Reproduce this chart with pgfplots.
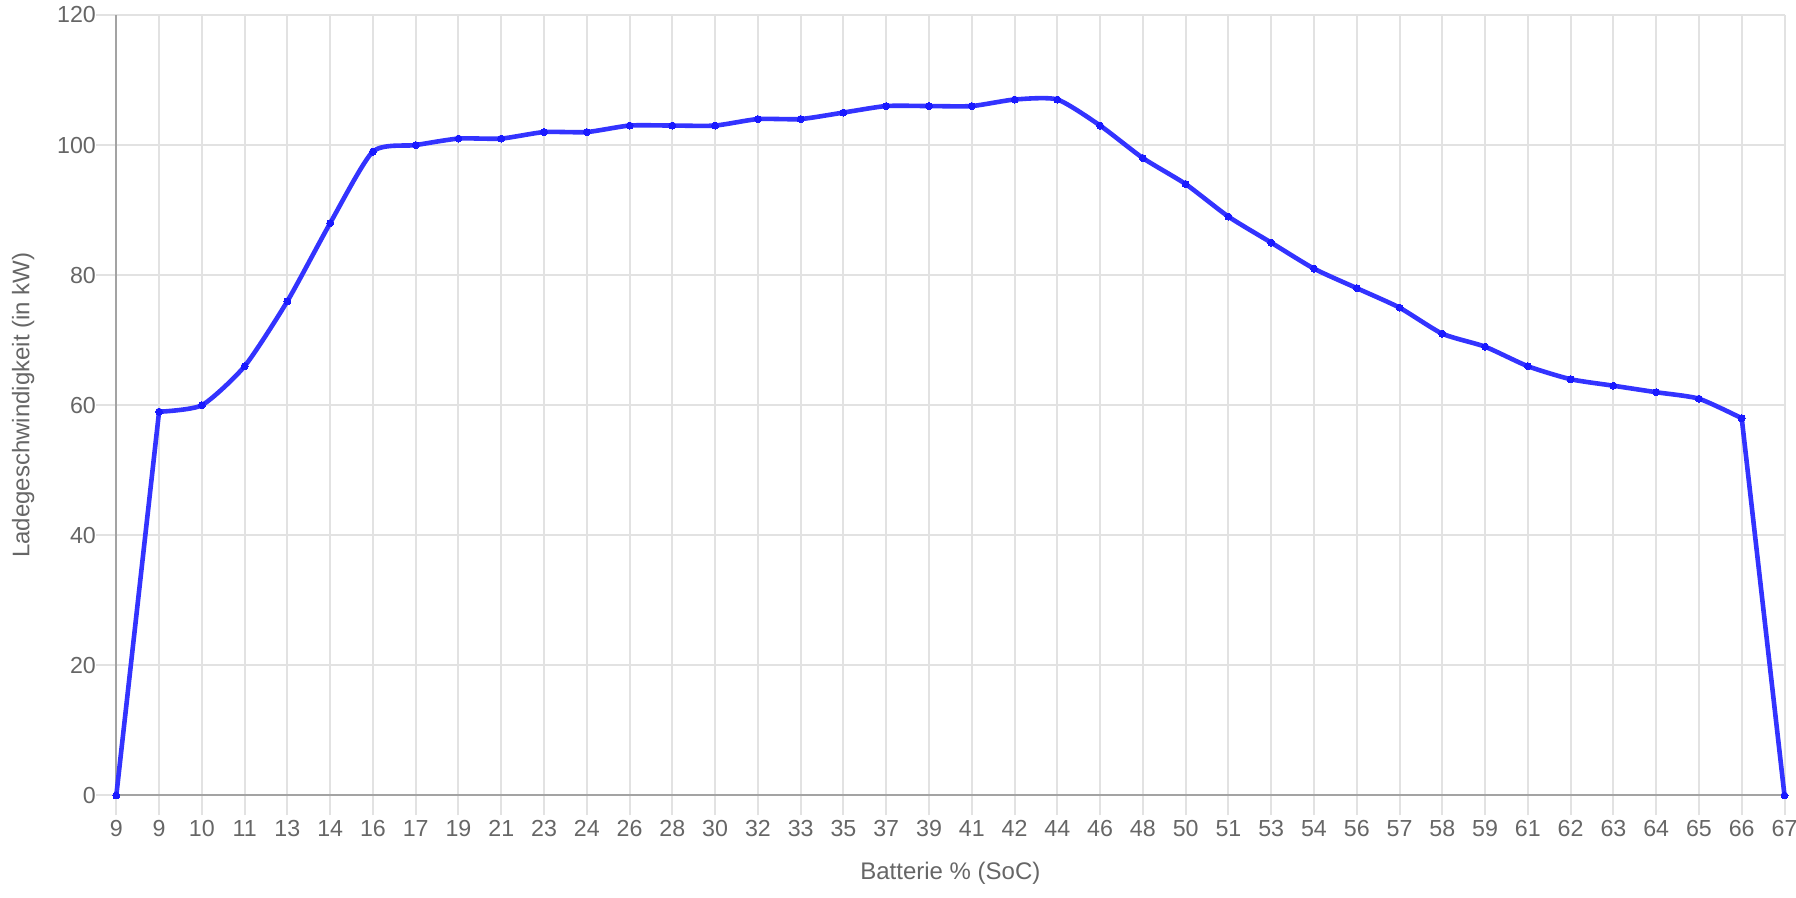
\documentclass[border=0pt]{standalone}
\usepackage{pgfplots}
\pgfplotsset{compat=1.18}
\usepackage{fontspec}
\setmainfont{Liberation Sans}
\definecolor{gridc}{HTML}{E2E2E2}
\definecolor{axisc}{HTML}{A3A3A3}
\definecolor{textc}{HTML}{666666}
\definecolor{linec}{HTML}{3333FF}
\definecolor{markc}{HTML}{1A1AFF}
\begin{document}
\begin{tikzpicture}
\path[use as bounding box] (-58.15pt,-51.25pt) rectangle (839.85pt,397.75pt);
\begin{axis}[
  at={(0,0)}, anchor=south west,
  scale only axis, width=834.1pt, height=390.25pt,
  xmin=0, xmax=39, ymin=0, ymax=120,
  xtick={0,...,39},
  xticklabels={9,9,10,11,13,14,16,17,19,21,23,24,26,28,30,32,33,35,37,39,41,42,44,46,48,50,51,53,54,56,57,58,59,61,62,63,64,65,66,67},
  ytick={0,20,...,120},
  grid=major,
  major grid style={gridc, line width=1pt},
  axis x line*=bottom, axis y line*=left,
  axis line style={axisc, line width=1pt, -},
  tick align=outside,
  major tick length=10pt,
  tick style={gridc, line width=1pt},
  every tick label/.append style={textc, font=\fontsize{11.6}{13}\selectfont},
  /pgf/number format/assume math mode=true,
  xticklabel style={yshift=1pt},
  yticklabel style={xshift=3.3pt},
  xlabel={Batterie \% (SoC)},
  ylabel={Ladegeschwindigkeit (in kW)},
  label style={textc, font=\fontsize{12}{14}\selectfont},
  xlabel style={at={(axis description cs:0.5,0)}, anchor=base, yshift=-42.25pt},
  ylabel style={at={(axis description cs:-0.0559,0.5)}, anchor=center},
  clip=false,
  every axis plot/.append style={line join=round, line cap=round},
]
\addplot[linec, line width=2.3pt, sharp plot, mark=*, mark size=1.75pt,
  mark options={markc, fill=markc, line width=0pt}] coordinates {(0,0) (1,59)};
\addplot[linec, line width=2.3pt, sharp plot, mark=*, mark size=1.75pt,
  mark options={markc, fill=markc, line width=0pt}] coordinates {(38,58) (39,0)};
\addplot[linec, line width=2.3pt, smooth, tension=0.38, mark=*, mark size=1.75pt,
  mark options={markc, fill=markc, line width=0pt}] coordinates {
(1,59) (2,60) (3,66) (4,76) (5,88) (6,99) (7,100) (8,101) (9,101)
(10,102) (11,102) (12,103) (13,103) (14,103) (15,104) (16,104) (17,105) (18,106) (19,106)
(20,106) (21,107) (22,107) (23,103) (24,98) (25,94) (26,89) (27,85) (28,81) (29,78)
(30,75) (31,71) (32,69) (33,66) (34,64) (35,63) (36,62) (37,61) (38,58)
};
\end{axis}
\end{tikzpicture}
\end{document}
